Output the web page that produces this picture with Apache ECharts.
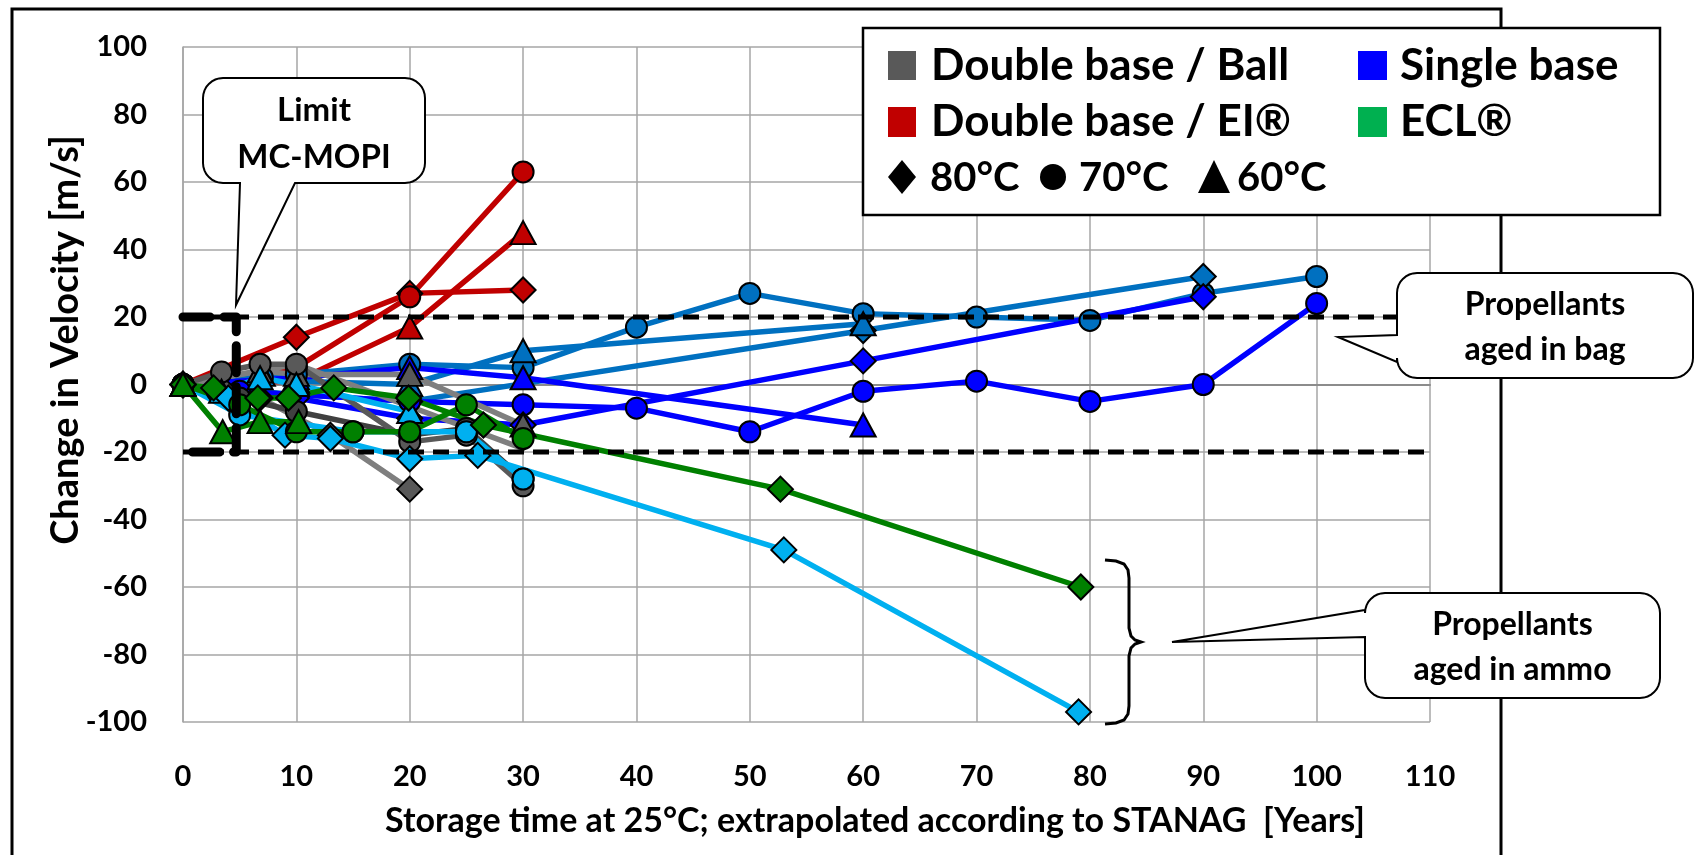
<!DOCTYPE html>
<html>
<head>
<meta charset="utf-8">
<script src="https://cdn.jsdelivr.net/npm/echarts/dist/echarts.min.js"></script>
<style>
  html, body { margin: 0; padding: 0; background: #fff; }
  #chart { width: 1694px; height: 855px; }
</style>
</head>
<body>
<div id="chart"></div>
<script>
// ---- Axis ranges ----
const X_MIN = 0, X_MAX = 110, X_STEP = 10;
const Y_MIN = -100, Y_MAX = 100, Y_STEP = 20;

// ---- Velocity change [m/s] vs. storage time [years] ----
// Double base / EI (red)
const redDiamond80  = [[0, 0], [10, 14], [20, 27], [30, 28]];
const redCircle70   = [[0, 0], [10, 5], [20, 26], [30, 63]];
const redTriangle60 = [[0, 0], [10, 1], [20, 17], [30, 45]];

// Single base, bag-aged (steel blue)
const steelCircle70   = [[0, 0], [3, -2], [7, 2], [10, 3], [20, 6], [30, 5], [40, 17], [50, 27], [60, 21], [70, 20], [80, 19], [90, 27], [100, 32]];
const steelDiamond80  = [[0, 0], [10, -3], [20, -5], [60, 16], [90, 32]];
const steelTriangle60 = [[0, 0], [7, 3], [10, 1], [20, 0], [30, 10], [60, 18]];

// Single base (blue)
const blueCircle70   = [[0, 0], [5, -2], [10, -3], [20, -5], [30, -6], [40, -7], [50, -14], [60, -2], [70, 1], [80, -5], [90, 0], [100, 24]];
const blueDiamond80  = [[0, 0], [10, -4], [20, -10], [30, -12], [60, 7], [90, 26]];
const blueTriangle60 = [[0, 0], [10, 2], [20, 5], [30, 2], [60, -12]];

// Double base / Ball (grey)
const greyCircle70a  = [[0, 0], [3.4, 3.7], [6.8, 6], [10, 6], [20, -17], [25, -15], [30, -30]];
const greyCircle70b  = [[0, 0], [5, -4], [10, -8], [20, -15], [25, -13], [30, -28]];
const greyLine70c    = [[0, 0], [10, 6], [30, -19]];
const greyTriangle60 = [[0, 0], [6.8, 4], [10, 3], [20, 3], [30, -12]];
const greyDiamond80  = [[0, 0], [3.4, -1], [6.8, -4], [13, -15], [20, -31]];

// Single base, ammo-aged (sky blue)
const skyDiamond80  = [[0, 0], [4, -4], [9, -15], [13, -16], [20, -22], [26, -21], [53, -49], [79, -97]];
const skyCircle70   = [[0, 0], [5, -9], [15, -14], [25, -14], [30, -28]];
const skyTriangle60 = [[0, 0], [3.4, -2], [6.8, 2], [10, 0], [20, -8]];

// ECL (green)
const greenDiamond80  = [[0, 0], [2.7, -1], [6.6, -4], [9.3, -4], [13.3, -1], [19.9, -4], [26.5, -12], [52.7, -31], [79.2, -60]];
const greenCircle70   = [[0, 0], [5, -6], [10, -14], [15, -14], [20, -14], [25, -6], [30, -16]];
const greenTriangle60 = [[0, 0], [3.5, -14], [6.8, -11], [10.2, -11]];

// MC-MOPI acceptance limits and the bracket marking them
const limitUpper = [[0, 20], [110, 20]];
const limitLower = [[0, -20], [110, -20]];
const mopiBracket = [[0, 20], [4.7, 20], [4.7, -20], [0, -20]];

// ---- Legend content ----
const groupNames  = ['Double base / Ball', 'Double base / EI®', 'Single base', 'ECL®'];
const groupColors = ['#595959', '#C00000', '#0000FF', '#00B050'];
const tempLabels  = ['80°C', '70°C', '60°C'];

const FONT = 'Lato, "Noto Sans", sans-serif';

function markerSize(symbol) {
  if (symbol === 'diamond') return [25, 25];
  if (symbol === 'triangle') return [25, 23];
  return 21;
}

function dataSeries(name, data, fill, line, symbol) {
  return {
    name, type: 'line', data, symbol,
    symbolSize: markerSize(symbol),
    showAllSymbol: true,
    lineStyle: { color: line, width: 5.5, cap: 'round', join: 'round' },
    itemStyle: { color: fill, borderColor: '#000', borderWidth: 2, opacity: 1 },
    emphasis: { disabled: true },
    animation: false,
    z: 2
  };
}

const series = [
  dataSeries('EI 80', redDiamond80, '#C00000', '#C00000', 'diamond'),
  dataSeries('EI 70', redCircle70, '#C00000', '#C00000', 'circle'),
  dataSeries('EI 60', redTriangle60, '#C00000', '#C00000', 'triangle'),
  dataSeries('SB bag 70', steelCircle70, '#0070C0', '#0070C0', 'circle'),
  dataSeries('SB bag 80', steelDiamond80, '#0070C0', '#0070C0', 'diamond'),
  dataSeries('SB bag 60', steelTriangle60, '#0070C0', '#0070C0', 'triangle'),
  dataSeries('SB 70', blueCircle70, '#0000FF', '#0000FF', 'circle'),
  dataSeries('SB 80', blueDiamond80, '#0000FF', '#0000FF', 'diamond'),
  dataSeries('SB 60', blueTriangle60, '#0000FF', '#0000FF', 'triangle'),
  dataSeries('Ball 70c', greyLine70c, '#595959', '#7F7F7F', 'none'),
  dataSeries('Ball 60', greyTriangle60, '#595959', '#7F7F7F', 'triangle'),
  dataSeries('Ball 80', greyDiamond80, '#595959', '#7F7F7F', 'diamond'),
  dataSeries('Ball 70b', greyCircle70b, '#404040', '#404040', 'circle'),
  dataSeries('Ball 70a', greyCircle70a, '#595959', '#595959', 'circle'),
  dataSeries('Ammo 70', skyCircle70, '#00B0F0', '#00B0F0', 'circle'),
  dataSeries('Ammo 60', skyTriangle60, '#00B0F0', '#00B0F0', 'triangle'),
  dataSeries('Ammo 80', skyDiamond80, '#00B0F0', '#00B0F0', 'diamond'),
  dataSeries('ECL 70', greenCircle70, '#008000', '#008000', 'circle'),
  dataSeries('ECL 80', greenDiamond80, '#008000', '#008000', 'diamond'),
  dataSeries('ECL 60', greenTriangle60, '#008000', '#008000', 'triangle'),
  {
    name: 'Limit +', type: 'line', data: limitUpper, symbol: 'none', silent: true, z: 3,
    lineStyle: { color: '#000', width: 5, type: [16, 9] }, animation: false
  },
  {
    name: 'Limit -', type: 'line', data: limitLower, symbol: 'none', silent: true, z: 3,
    lineStyle: { color: '#000', width: 5, type: [16, 9] }, animation: false
  },
  {
    name: 'MC-MOPI', type: 'line', data: mopiBracket, symbol: 'none', silent: true, z: 3,
    lineStyle: { color: '#000', width: 9, type: [27, 14], cap: 'round', join: 'round' }, animation: false
  }
];

// Rounded speech-bubble outline with a pointer on the bottom or left side
function calloutPoints(x0, y0, x1, y1, r, tail) {
  const pts = [];
  const arc = (cx, cy, a0, a1) => {
    for (let i = 0; i <= 8; i++) {
      const a = (a0 + (a1 - a0) * i / 8) * Math.PI / 180;
      pts.push([cx + r * Math.cos(a), cy + r * Math.sin(a)]);
    }
  };
  arc(x1 - r, y0 + r, -90, 0);
  arc(x1 - r, y1 - r, 0, 90);
  if (tail.side === 'bottom') pts.push([tail.to, y1], tail.tip, [tail.from, y1]);
  arc(x0 + r, y1 - r, 90, 180);
  if (tail.side === 'left') pts.push([x0, tail.to], tail.tip, [x0, tail.from]);
  arc(x0 + r, y0 + r, 180, 270);
  return pts;
}

function textEl(x, y, text, size, align, extra) {
  return Object.assign({
    type: 'text', x, y, z: 20,
    style: {
      text, fill: '#000', font: 'bold ' + size + 'px ' + FONT,
      align: align, verticalAlign: 'middle',
      textAlign: align, textVerticalAlign: 'middle'
    }
  }, extra || {});
}

function bubble(box, tail, lines, size) {
  const els = [{
    type: 'polygon', z: 15,
    shape: { points: calloutPoints(box[0], box[1], box[2], box[3], 20, tail) },
    style: { fill: '#fff', stroke: '#000', lineWidth: 2 }
  }];
  const cx = (box[0] + box[2]) / 2;
  lines.forEach((t) => els.push(textEl(cx, t[1], t[0], size, 'center')));
  return els;
}

// Curly brace grouping the ammo-aged results
const bracePts = [
  [1105, 560], [1116, 561], [1124, 564], [1128, 570], [1129, 578],
  [1129, 628], [1131, 636], [1135, 640], [1141, 642],
  [1135, 644], [1131, 648], [1129, 656],
  [1129, 706], [1128, 714], [1124, 720], [1116, 723], [1105, 724]
];

const graphics = [
  { type: 'rect', z: 1, shape: { x: 12, y: 9, width: 1489, height: 870 },
    style: { fill: 'none', stroke: '#000', lineWidth: 3 } },
  textEl(875, 821, 'Storage time at 25°C; extrapolated according to STANAG  [Years]', 34, 'center'),
  textEl(66, 340, 'Change in Velocity [m/s]', 38, 'center', { rotation: Math.PI / 2 }),
  { type: 'polyline', z: 15, shape: { points: bracePts },
    style: { fill: 'none', stroke: '#000', lineWidth: 3 } },
  ...bubble([203, 78, 425, 183], { side: 'bottom', from: 240, to: 295, tip: [236, 305] },
            [['Limit', 110], ['MC-MOPI', 157]], 33),
  ...bubble([1397, 273, 1693, 378], { side: 'left', from: 335, to: 362, tip: [1338, 337] },
            [['Propellants', 305], ['aged in bag', 350]], 32),
  ...bubble([1365, 593, 1660, 698], { side: 'left', from: 610, to: 637, tip: [1172, 642] },
            [['Propellants', 625], ['aged in ammo', 670]], 32),
  // legend
  { type: 'rect', z: 15, shape: { x: 863, y: 28, width: 797, height: 187 },
    style: { fill: '#fff', stroke: '#000', lineWidth: 2.5 } },
  { type: 'rect', z: 16, shape: { x: 888, y: 51, width: 28, height: 29 }, style: { fill: groupColors[0] } },
  textEl(931, 66, groupNames[0], 44, 'left'),
  { type: 'rect', z: 16, shape: { x: 888, y: 107, width: 28, height: 30 }, style: { fill: groupColors[1] } },
  textEl(931, 122, groupNames[1], 44, 'left'),
  { type: 'rect', z: 16, shape: { x: 1358, y: 51, width: 29, height: 29 }, style: { fill: groupColors[2] } },
  textEl(1400, 66, groupNames[2], 44, 'left'),
  { type: 'rect', z: 16, shape: { x: 1358, y: 107, width: 29, height: 30 }, style: { fill: groupColors[3] } },
  textEl(1400, 122, groupNames[3], 44, 'left'),
  { type: 'polygon', z: 16, shape: { points: [[902, 160], [916, 177], [902, 194], [888, 177]] }, style: { fill: '#000' } },
  textEl(930, 178, tempLabels[0], 40, 'left'),
  { type: 'circle', z: 16, shape: { cx: 1053, cy: 177, r: 13 }, style: { fill: '#000' } },
  textEl(1079, 178, tempLabels[1], 40, 'left'),
  { type: 'polygon', z: 16, shape: { points: [[1214, 160], [1230, 193], [1198, 193]] }, style: { fill: '#000' } },
  textEl(1237, 178, tempLabels[2], 40, 'left')
];

const chart = echarts.init(document.getElementById('chart'), null, { renderer: 'canvas' });
chart.setOption({
  backgroundColor: '#fff',
  animation: false,
  grid: { left: 183, top: 47, width: 1247, height: 675, containLabel: false },
  xAxis: {
    type: 'value', min: X_MIN, max: X_MAX, interval: X_STEP,
    axisLine: { show: true, lineStyle: { color: '#8C8C8C', width: 2 } },
    axisTick: { show: false },
    splitLine: { show: true, lineStyle: { color: '#A6A6A6', width: 1.5 } },
    axisLabel: { color: '#000', fontFamily: FONT, fontWeight: 'bold', fontSize: 29, margin: 40 }
  },
  yAxis: {
    type: 'value', min: Y_MIN, max: Y_MAX, interval: Y_STEP,
    axisLine: { show: true, lineStyle: { color: '#A6A6A6', width: 1.5 } },
    axisTick: { show: false },
    splitLine: { show: true, lineStyle: { color: '#A6A6A6', width: 1.5 } },
    axisLabel: { color: '#000', fontFamily: FONT, fontWeight: 'bold', fontSize: 29, margin: 36 }
  },
  series: series,
  graphic: { elements: graphics }
});
</script>
</body>
</html>
